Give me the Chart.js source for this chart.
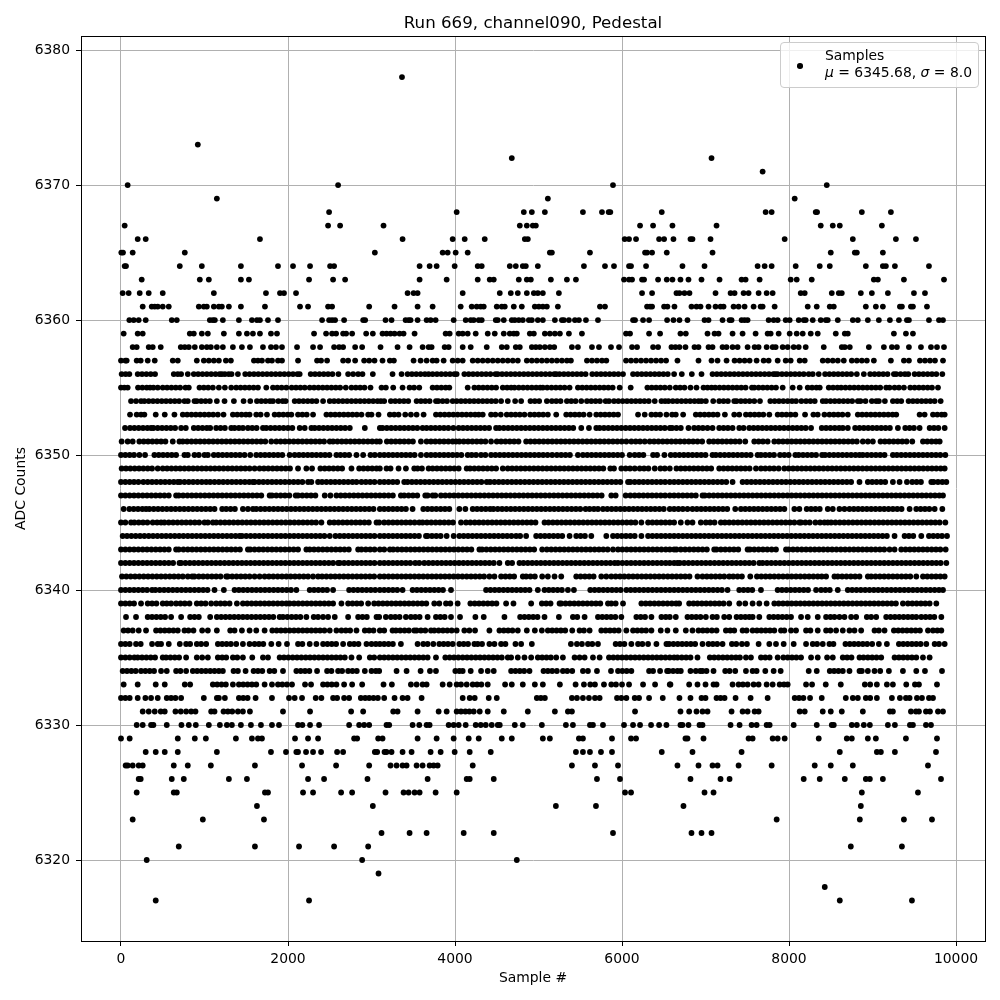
<!DOCTYPE html>
<html>
<head>
<meta charset="utf-8">
<title>Run 669, channel090, Pedestal</title>
<script src="https://cdn.jsdelivr.net/npm/chart.js@4"></script>
<style>
  html, body { margin: 0; padding: 0; background: #fff; }
  #wrap { position: relative; width: 1000px; height: 1000px; }
  #legend {
    position: absolute; left: 780px; top: 42px; width: 197px; height: 44px;
    background: rgba(255,255,255,0.8); border: 1px solid #ccc; border-radius: 4px;
    font: 13.9px "DejaVu Sans"; color: #000; line-height: 17px;
  }
  #legend .dot { position: absolute; left: 16px; top: 20px; width: 5.6px; height: 5.6px; border-radius: 50%; background: #000; }
  #legend .txt { position: absolute; left: 44px; top: 4px; white-space: nowrap; }
</style>
</head>
<body>
<div id="wrap">
  <canvas id="myChart" width="1000" height="1000"></canvas>
  <div id="legend"><span class="dot"></span><div class="txt">Samples<br><i>μ</i> = 6345.68, <i>σ</i> = 8.0</div></div>
</div>
<script>
// x positions of the samples on each ADC level
const s6378 = [3365];
const s6373 = [920];
const s6372 = [4680, 7072];
const s6371 = [7684];
const s6370 = [80, 2600, 5892, 8452];
const s6369 = [1148, 5112, 8068];
const s6368 = [2492, 4020, 4824, 4920, 5076, 5532, 5760, 5840, 5860, 6476, 7720, 7792, 8320, 8336, 8872, 9220];
const s6367 = [44, 2480, 2624, 3144, 4776, 4860, 4932, 4968, 6216, 6372, 6604, 7132, 8380, 8524, 8608, 9112];
const s6366 = [200, 296, 1664, 3372, 3972, 4116, 4356, 4836, 4872, 6032, 6084, 6168, 6444, 6504, 6616, 6820, 6844, 7060, 7948, 8764, 9280, 9520];
const s6365 = [4, 24, 140, 764, 3040, 3852, 3912, 4008, 4152, 5136, 5160, 5616, 6276, 6300, 6360, 6536, 7084, 8500, 8788, 8812, 9124];
const s6364 = [44, 60, 704, 968, 1436, 1880, 2060, 2264, 2504, 2552, 3576, 3696, 3780, 3996, 4272, 4320, 4656, 4728, 4812, 4848, 4992, 5544, 5796, 5904, 6084, 6108, 6288, 6724, 6988, 7624, 7708, 7792, 8080, 8368, 8488, 8920, 9124, 9160, 9268, 9676];
const s6363 = [248, 944, 1052, 1436, 1532, 2252, 2540, 2684, 3576, 3900, 4272, 4416, 4464, 4764, 4860, 4908, 5148, 5340, 5448, 6024, 6084, 6120, 6240, 6264, 6432, 6536, 6604, 6700, 6796, 6952, 7168, 7432, 7480, 7648, 8020, 8092, 8272, 9016, 9064, 9376, 9856];
const s6362 = [20, 92, 224, 332, 500, 1112, 1736, 1904, 1952, 2096, 3432, 3504, 3552, 4092, 4536, 4668, 4752, 4860, 4944, 4992, 5052, 5244, 6240, 6360, 6652, 6688, 6748, 6808, 7120, 7300, 7348, 7456, 7516, 7636, 7732, 7804, 8140, 8188, 8512, 8596, 8632, 8860, 8992, 9184, 9496, 9628];
const s6361 = [260, 368, 404, 440, 500, 572, 932, 992, 1028, 1112, 1172, 1208, 1292, 1436, 1724, 2144, 2240, 2480, 2528, 2972, 3276, 3552, 3732, 4068, 4200, 4260, 4308, 4344, 4500, 4560, 4596, 4704, 4800, 4956, 5004, 5052, 5100, 5232, 5736, 5796, 6300, 6336, 6360, 6504, 6544, 6628, 6832, 6892, 6940, 7036, 7120, 7180, 7216, 7336, 7396, 7468, 7576, 7660, 7684, 7828, 8224, 8332, 8488, 8536, 8920, 9040, 9124, 9328, 9352, 9460, 9484, 9652];
const s6360 = [100, 152, 212, 296, 608, 668, 1064, 1100, 1124, 1220, 1412, 1568, 1628, 1664, 1760, 1880, 2408, 2492, 2528, 2564, 2672, 2900, 2924, 3168, 3240, 3408, 3444, 3468, 3552, 3660, 3708, 3768, 3984, 4128, 4188, 4224, 4284, 4320, 4488, 4512, 4584, 4680, 4716, 4764, 4812, 4884, 4920, 4992, 5052, 5196, 5280, 5304, 5364, 5436, 5484, 5568, 5712, 6132, 6156, 6252, 6324, 6540, 6616, 6688, 6784, 6988, 7036, 7204, 7288, 7312, 7432, 7468, 7504, 7756, 7816, 7864, 7960, 8008, 8116, 8176, 8200, 8284, 8380, 8440, 8464, 8584, 8764, 8824, 8944, 9076, 9208, 9316, 9412, 9436, 9676, 9796, 9844];
const s6359 = [32, 200, 260, 824, 872, 968, 1040, 1232, 1412, 1508, 1580, 1664, 1796, 1868, 2312, 2456, 2528, 2576, 2660, 2696, 2768, 2936, 3016, 3132, 3180, 3228, 3276, 3336, 3384, 3516, 3888, 3936, 4044, 4092, 4152, 4248, 4392, 4476, 4584, 4656, 4704, 4740, 4896, 4944, 5076, 5136, 5196, 5256, 5364, 5520, 6048, 6096, 6324, 6456, 6700, 6764, 7024, 7108, 7156, 7324, 7444, 7600, 7744, 7780, 7876, 8008, 8092, 8164, 8260, 8344, 8560, 8668, 8704, 9256, 9400, 9484];
const s6358 = [140, 188, 332, 380, 476, 716, 764, 812, 884, 968, 1028, 1076, 1148, 1220, 1340, 1448, 1544, 1700, 1796, 1856, 1928, 2108, 2300, 2384, 2552, 2612, 2660, 2804, 2888, 3108, 3312, 3456, 3612, 3684, 3720, 3876, 3924, 4092, 4188, 4380, 4560, 4620, 4728, 4776, 4920, 4968, 5016, 5076, 5136, 5188, 5400, 5472, 5640, 5724, 5868, 5964, 6120, 6180, 6372, 6432, 6592, 6640, 6688, 6760, 6868, 6916, 7036, 7084, 7204, 7252, 7324, 7384, 7504, 7588, 7636, 7732, 7804, 7840, 7924, 7984, 8056, 8116, 8200, 8416, 8632, 8668, 8728, 8956, 9136, 9232, 9292, 9436, 9580, 9700, 9772, 9856];
const s6357 = [0, 52, 68, 188, 236, 320, 404, 620, 680, 908, 992, 1052, 1112, 1172, 1256, 1316, 1592, 1640, 1688, 1760, 1808, 1880, 1928, 2120, 2348, 2396, 2468, 2660, 2720, 2804, 2912, 2972, 3036, 3132, 3220, 3268, 3504, 3588, 3660, 3732, 3780, 3864, 3972, 4032, 4092, 4212, 4272, 4332, 4392, 4452, 4512, 4572, 4632, 4692, 4752, 4860, 4920, 4980, 5040, 5100, 5160, 5220, 5280, 5340, 5388, 5580, 5640, 5700, 5760, 5812, 6048, 6108, 6168, 6228, 6288, 6348, 6408, 6468, 6528, 6664, 6916, 7072, 7144, 7252, 7348, 7408, 7468, 7528, 7612, 7696, 7756, 7864, 7960, 8020, 8128, 8188, 8404, 8464, 8524, 8584, 8656, 8752, 8812, 8872, 8932, 9016, 9220, 9376, 9436, 9568, 9628, 9688, 9748, 9844];
const s6356 = [8, 56, 100, 200, 252, 304, 356, 408, 632, 680, 720, 800, 872, 924, 976, 1028, 1080, 1132, 1180, 1208, 1244, 1290, 1324, 1400, 1488, 1540, 1592, 1644, 1696, 1748, 1800, 1852, 1904, 1956, 2008, 2060, 2112, 2140, 2272, 2324, 2376, 2428, 2480, 2532, 2604, 2720, 2780, 2840, 2892, 3016, 3252, 3360, 3432, 3484, 3536, 3588, 3640, 3684, 3732, 3784, 3836, 3888, 3940, 3992, 4020, 4112, 4164, 4216, 4268, 4320, 4372, 4424, 4484, 4512, 4564, 4616, 4668, 4720, 4772, 4824, 4876, 4928, 4980, 5032, 5084, 5136, 5188, 5212, 5252, 5304, 5356, 5408, 5460, 5512, 5564, 5644, 5696, 5748, 5800, 5852, 5904, 5956, 6012, 6132, 6184, 6236, 6288, 6340, 6392, 6444, 6496, 6548, 6624, 6716, 6836, 6952, 7084, 7136, 7188, 7240, 7292, 7344, 7396, 7448, 7500, 7552, 7604, 7656, 7708, 7760, 7812, 7836, 7864, 7916, 7968, 8020, 8072, 8124, 8176, 8236, 8284, 8356, 8432, 8484, 8536, 8588, 8640, 8692, 8744, 8812, 8896, 8972, 9024, 9076, 9128, 9180, 9256, 9284, 9336, 9388, 9428, 9504, 9556, 9608, 9660, 9712, 9764, 9836];
const s6355 = [0, 40, 80, 204, 256, 308, 348, 388, 440, 500, 552, 604, 656, 708, 772, 812, 940, 992, 1044, 1100, 1172, 1244, 1320, 1380, 1432, 1484, 1536, 1588, 1640, 1740, 1820, 1872, 1924, 1980, 2044, 2096, 2148, 2200, 2260, 2312, 2364, 2416, 2468, 2520, 2572, 2624, 2692, 2760, 2812, 2864, 2916, 2988, 3120, 3172, 3260, 3372, 3456, 3510, 3572, 3732, 3784, 3836, 3888, 3932, 4152, 4232, 4284, 4336, 4388, 4440, 4492, 4572, 4624, 4672, 4712, 4764, 4816, 4868, 4920, 4972, 5020, 5052, 5104, 5156, 5208, 5260, 5312, 5372, 5472, 5524, 5576, 5628, 5680, 5732, 5784, 5836, 5888, 5972, 6104, 6304, 6356, 6408, 6460, 6512, 6572, 6644, 6696, 6748, 6820, 6892, 6976, 7024, 7072, 7116, 7168, 7220, 7272, 7324, 7376, 7428, 7480, 7556, 7584, 7636, 7688, 7740, 7792, 7844, 7924, 8044, 8128, 8224, 8276, 8328, 8368, 8476, 8528, 8580, 8624, 8676, 8728, 8780, 8832, 8884, 8936, 8988, 9040, 9092, 9164, 9204, 9264, 9316, 9376, 9452, 9504, 9556, 9608, 9660, 9712, 9784];
const s6354 = [120, 180, 240, 280, 332, 384, 436, 488, 540, 592, 644, 696, 760, 800, 880, 908, 960, 1012, 1064, 1148, 1240, 1352, 1468, 1548, 1628, 1680, 1732, 1784, 1820, 1884, 1936, 1972, 2080, 2132, 2184, 2236, 2288, 2340, 2420, 2500, 2552, 2604, 2656, 2708, 2760, 2812, 2864, 2916, 2968, 3020, 3072, 3112, 3152, 3232, 3284, 3336, 3388, 3440, 3540, 3592, 3644, 3696, 3772, 3800, 3852, 3904, 3972, 4020, 4072, 4124, 4176, 4228, 4280, 4332, 4384, 4436, 4488, 4552, 4632, 4720, 4792, 4904, 4956, 5008, 5100, 5160, 5212, 5264, 5340, 5392, 5444, 5512, 5580, 5632, 5684, 5736, 5804, 5844, 5904, 5956, 6008, 6060, 6112, 6164, 6216, 6268, 6320, 6392, 6472, 6516, 6556, 6608, 6660, 6712, 6764, 6816, 6868, 6916, 6952, 7004, 7092, 7164, 7216, 7268, 7344, 7372, 7424, 7476, 7528, 7584, 7652, 7776, 7828, 7880, 7932, 7984, 8036, 8084, 8148, 8204, 8256, 8308, 8404, 8444, 8496, 8548, 8600, 8652, 8704, 8756, 8824, 8856, 8916, 8992, 9044, 9076, 9148, 9244, 9296, 9344, 9432, 9484, 9536, 9588, 9640, 9692, 9744, 9816];
const s6353 = [108, 188, 240, 280, 416, 524, 640, 740, 792, 844, 896, 948, 1000, 1052, 1104, 1160, 1228, 1340, 1392, 1444, 1496, 1540, 1620, 1672, 1748, 1840, 1892, 1944, 1996, 2040, 2120, 2172, 2224, 2300, 2460, 2512, 2564, 2616, 2668, 2720, 2772, 2824, 2880, 2960, 3000, 3084, 3220, 3272, 3324, 3404, 3472, 3540, 3624, 3772, 3824, 3876, 3928, 3980, 4032, 4084, 4136, 4188, 4240, 4284, 4332, 4432, 4484, 4548, 4620, 4672, 4724, 4776, 4832, 4900, 4952, 5004, 5056, 5112, 5212, 5332, 5384, 5436, 5488, 5540, 5612, 5692, 5744, 5796, 5848, 5900, 5952, 6192, 6272, 6352, 6404, 6456, 6532, 6600, 6644, 6732, 6884, 6936, 6988, 7040, 7092, 7144, 7232, 7344, 7404, 7484, 7536, 7588, 7640, 7692, 7764, 7864, 7916, 7968, 8020, 8076, 8192, 8292, 8344, 8424, 8484, 8536, 8588, 8640, 8704, 8824, 8876, 8928, 8980, 9032, 9084, 9136, 9188, 9240, 9284, 9564, 9624, 9724, 9776, 9828, 9864];
const s6352 = [48, 108, 160, 212, 264, 316, 360, 388, 440, 492, 544, 596, 648, 720, 776, 872, 924, 976, 1028, 1068, 1140, 1192, 1244, 1320, 1360, 1412, 1460, 1520, 1572, 1624, 1700, 1740, 1792, 1844, 1896, 1948, 2000, 2052, 2140, 2200, 2280, 2320, 2372, 2424, 2476, 2528, 2580, 2632, 2684, 2740, 2920, 3100, 3132, 3184, 3236, 3288, 3340, 3392, 3444, 3496, 3548, 3612, 3660, 3712, 3764, 3816, 3868, 3920, 3980, 4044, 4096, 4148, 4200, 4252, 4304, 4356, 4408, 4492, 4532, 4584, 4636, 4688, 4740, 4792, 4844, 4896, 4948, 5000, 5052, 5104, 5156, 5208, 5260, 5312, 5364, 5416, 5512, 5604, 5692, 5732, 5784, 5836, 5888, 5940, 5992, 6044, 6096, 6148, 6200, 6252, 6304, 6356, 6408, 6460, 6512, 6572, 6600, 6652, 6704, 6796, 6864, 6916, 6968, 7024, 7084, 7164, 7216, 7268, 7324, 7404, 7456, 7524, 7576, 7628, 7680, 7732, 7784, 7836, 7888, 7940, 7992, 8044, 8096, 8148, 8200, 8264, 8392, 8444, 8496, 8548, 8600, 8644, 8704, 8792, 8844, 8896, 8948, 9000, 9052, 9104, 9156, 9208, 9304, 9392, 9444, 9496, 9564, 9684, 9736, 9788, 9864];
const s6351 = [8, 80, 140, 220, 272, 324, 376, 428, 480, 532, 620, 700, 740, 792, 844, 896, 948, 1000, 1052, 1104, 1156, 1208, 1260, 1312, 1364, 1416, 1468, 1520, 1572, 1624, 1676, 1728, 1800, 1860, 1912, 1964, 2016, 2068, 2120, 2172, 2224, 2276, 2328, 2380, 2432, 2500, 2540, 2592, 2644, 2696, 2748, 2800, 2852, 2904, 2956, 3008, 3060, 3100, 3184, 3236, 3288, 3340, 3392, 3444, 3496, 3592, 3660, 3712, 3764, 3816, 3868, 3920, 3972, 4012, 4052, 4104, 4156, 4208, 4260, 4312, 4364, 4432, 4500, 4552, 4604, 4656, 4708, 4760, 4852, 4904, 4956, 5008, 5060, 5112, 5164, 5216, 5268, 5320, 5372, 5424, 5476, 5528, 5580, 5632, 5684, 5736, 5788, 5840, 5892, 5944, 5996, 6052, 6112, 6164, 6216, 6272, 6332, 6384, 6436, 6488, 6540, 6592, 6644, 6696, 6748, 6800, 6852, 6904, 6960, 7044, 7096, 7148, 7200, 7252, 7304, 7356, 7408, 7476, 7584, 7636, 7688, 7744, 7824, 7876, 7928, 7980, 8032, 8084, 8136, 8188, 8240, 8292, 8344, 8396, 8448, 8500, 8552, 8604, 8656, 8708, 8760, 8812, 8884, 8944, 9004, 9096, 9148, 9200, 9252, 9304, 9356, 9408, 9476, 9604, 9656, 9708, 9760, 9804];
const s6350 = [0, 52, 104, 156, 220, 288, 400, 452, 504, 556, 608, 660, 760, 800, 880, 932, 1000, 1040, 1112, 1164, 1216, 1268, 1320, 1372, 1424, 1480, 1548, 1620, 1672, 1724, 1776, 1828, 1880, 1932, 2020, 2080, 2132, 2184, 2236, 2288, 2340, 2392, 2444, 2496, 2580, 2628, 2680, 2732, 2820, 2900, 2988, 3040, 3100, 3152, 3204, 3256, 3308, 3360, 3412, 3464, 3516, 3592, 3660, 3712, 3764, 3816, 3868, 3920, 3972, 4024, 4076, 4152, 4200, 4252, 4312, 4364, 4432, 4484, 4536, 4588, 4640, 4692, 4744, 4796, 4848, 4900, 4952, 5004, 5056, 5108, 5164, 5220, 5272, 5324, 5376, 5472, 5532, 5584, 5636, 5688, 5740, 5792, 5844, 5896, 5948, 6000, 6092, 6152, 6204, 6256, 6372, 6420, 6508, 6584, 6636, 6688, 6740, 6792, 6844, 6896, 6948, 7000, 7084, 7124, 7176, 7228, 7280, 7332, 7384, 7436, 7488, 7540, 7624, 7664, 7716, 7768, 7820, 7892, 7944, 7996, 8076, 8116, 8168, 8220, 8272, 8324, 8396, 8432, 8484, 8536, 8588, 8640, 8692, 8744, 8796, 8844, 8884, 8936, 8988, 9040, 9092, 9144, 9244, 9292, 9344, 9396, 9448, 9500, 9552, 9604, 9656, 9708, 9760, 9812, 9872];
const s6349 = [8, 60, 112, 164, 216, 268, 320, 372, 440, 500, 552, 604, 656, 708, 760, 812, 864, 916, 968, 1020, 1072, 1124, 1176, 1228, 1280, 1332, 1384, 1436, 1488, 1540, 1600, 1660, 1712, 1764, 1816, 1868, 1920, 1972, 2024, 2120, 2220, 2288, 2388, 2440, 2492, 2544, 2596, 2648, 2760, 2852, 2904, 2956, 3008, 3060, 3100, 3180, 3228, 3324, 3412, 3512, 3552, 3604, 3684, 3732, 3784, 3836, 3888, 3940, 3992, 4044, 4140, 4180, 4232, 4284, 4336, 4388, 4440, 4492, 4572, 4632, 4684, 4736, 4788, 4840, 4892, 4944, 4996, 5048, 5100, 5152, 5204, 5256, 5308, 5360, 5412, 5464, 5516, 5568, 5620, 5672, 5724, 5776, 5860, 5904, 5992, 6044, 6096, 6152, 6212, 6264, 6316, 6392, 6460, 6512, 6572, 6652, 6704, 6756, 6808, 6860, 6912, 6964, 7016, 7068, 7164, 7216, 7268, 7320, 7372, 7424, 7476, 7528, 7604, 7664, 7716, 7768, 7820, 7876, 7944, 7996, 8048, 8100, 8152, 8204, 8256, 8308, 8360, 8412, 8464, 8516, 8568, 8620, 8672, 8724, 8776, 8828, 8880, 8932, 8984, 9036, 9088, 9140, 9192, 9244, 9296, 9348, 9400, 9452, 9504, 9556, 9608, 9660, 9712, 9764, 9816, 9864];
const s6348 = [0, 52, 104, 156, 208, 268, 320, 372, 424, 476, 528, 580, 632, 680, 708, 760, 812, 864, 916, 968, 1020, 1068, 1120, 1172, 1224, 1276, 1328, 1380, 1432, 1484, 1536, 1580, 1600, 1652, 1704, 1756, 1808, 1860, 1912, 1964, 2016, 2068, 2120, 2172, 2240, 2280, 2360, 2408, 2460, 2512, 2564, 2616, 2668, 2720, 2772, 2820, 2880, 2932, 2984, 3036, 3100, 3152, 3204, 3256, 3308, 3392, 3432, 3484, 3536, 3588, 3640, 3692, 3744, 3796, 3848, 3900, 3952, 4004, 4056, 4108, 4160, 4212, 4264, 4316, 4380, 4420, 4472, 4524, 4576, 4628, 4680, 4732, 4784, 4836, 4888, 4940, 4992, 5044, 5096, 5148, 5200, 5252, 5304, 5356, 5408, 5460, 5512, 5564, 5616, 5668, 5720, 5772, 5824, 5876, 5928, 5980, 6072, 6100, 6152, 6204, 6256, 6308, 6360, 6412, 6464, 6516, 6572, 6624, 6676, 6728, 6780, 6832, 6884, 6936, 6988, 7040, 7092, 7144, 7196, 7248, 7324, 7444, 7496, 7548, 7600, 7652, 7704, 7756, 7808, 7860, 7912, 7964, 8016, 8068, 8120, 8172, 8224, 8276, 8328, 8380, 8432, 8484, 8536, 8588, 8640, 8692, 8744, 8844, 8944, 8996, 9048, 9100, 9152, 9244, 9324, 9412, 9476, 9528, 9580, 9704, 9732, 9784, 9836, 9884];
const s6347 = [0, 52, 104, 156, 208, 260, 312, 364, 416, 468, 520, 572, 660, 692, 744, 796, 848, 900, 952, 1004, 1056, 1108, 1160, 1212, 1264, 1316, 1368, 1420, 1472, 1524, 1576, 1628, 1680, 1780, 1808, 1860, 1912, 1964, 2016, 2092, 2120, 2172, 2224, 2276, 2328, 2440, 2508, 2580, 2632, 2684, 2736, 2788, 2840, 2892, 2944, 2996, 3048, 3100, 3152, 3204, 3256, 3352, 3392, 3444, 3496, 3548, 3644, 3672, 3732, 3764, 3832, 3884, 3936, 3988, 4040, 4092, 4144, 4196, 4248, 4300, 4352, 4404, 4456, 4508, 4560, 4612, 4664, 4716, 4768, 4820, 4872, 4924, 4976, 5028, 5080, 5132, 5184, 5236, 5288, 5340, 5392, 5444, 5496, 5548, 5600, 5652, 5704, 5756, 5872, 5924, 6044, 6100, 6152, 6204, 6256, 6308, 6360, 6412, 6464, 6516, 6572, 6624, 6676, 6728, 6780, 6832, 6884, 6964, 6992, 7044, 7096, 7148, 7200, 7252, 7304, 7356, 7408, 7460, 7512, 7564, 7616, 7668, 7720, 7772, 7824, 7876, 7928, 7980, 8032, 8084, 8136, 8188, 8240, 8292, 8344, 8396, 8448, 8500, 8552, 8604, 8656, 8708, 8760, 8812, 8864, 8916, 8968, 9020, 9072, 9124, 9176, 9228, 9280, 9332, 9384, 9436, 9488, 9540, 9592, 9644, 9696, 9748, 9800, 9844];
const s6346 = [32, 100, 152, 204, 256, 300, 340, 392, 444, 496, 548, 600, 652, 704, 756, 808, 860, 912, 964, 1016, 1068, 1120, 1212, 1260, 1312, 1364, 1460, 1520, 1580, 1620, 1672, 1724, 1776, 1828, 1880, 1932, 1984, 2036, 2088, 2140, 2192, 2244, 2296, 2348, 2400, 2452, 2504, 2556, 2608, 2660, 2712, 2764, 2816, 2868, 2920, 2972, 3024, 3100, 3152, 3204, 3256, 3308, 3360, 3412, 3492, 3620, 3672, 3724, 3776, 3828, 3880, 3932, 4052, 4124, 4212, 4264, 4316, 4368, 4420, 4460, 4512, 4564, 4616, 4668, 4720, 4772, 4824, 4876, 4928, 4980, 5032, 5084, 5136, 5188, 5240, 5292, 5344, 5396, 5448, 5500, 5564, 5612, 5664, 5712, 5772, 5824, 5876, 5928, 5980, 6032, 6084, 6136, 6188, 6240, 6292, 6344, 6396, 6448, 6500, 6572, 6624, 6676, 6728, 6784, 6844, 6896, 6948, 7000, 7052, 7104, 7156, 7208, 7260, 7356, 7424, 7476, 7528, 7580, 7632, 7684, 7736, 7788, 7840, 7892, 7944, 8064, 8124, 8212, 8264, 8316, 8368, 8464, 8524, 8604, 8664, 8724, 8776, 8828, 8880, 8932, 8984, 9036, 9088, 9140, 9192, 9244, 9296, 9348, 9444, 9524, 9576, 9628, 9680, 9744, 9836];
const s6345 = [0, 52, 120, 160, 212, 264, 316, 380, 432, 480, 520, 572, 624, 676, 728, 780, 832, 884, 936, 1000, 1040, 1100, 1140, 1192, 1244, 1296, 1348, 1400, 1452, 1504, 1556, 1608, 1660, 1712, 1764, 1816, 1868, 1920, 1972, 2024, 2076, 2128, 2180, 2232, 2284, 2336, 2400, 2500, 2552, 2604, 2656, 2708, 2760, 2812, 2864, 2916, 2968, 3060, 3092, 3152, 3204, 3256, 3308, 3360, 3412, 3464, 3516, 3572, 3612, 3664, 3716, 3768, 3820, 3872, 3924, 3976, 4072, 4132, 4184, 4236, 4288, 4340, 4392, 4444, 4496, 4548, 4600, 4652, 4704, 4756, 4808, 4860, 4912, 4964, 5072, 5120, 5172, 5224, 5276, 5328, 5380, 5432, 5484, 5536, 5588, 5640, 5692, 5744, 5796, 5848, 5900, 5952, 6004, 6056, 6108, 6160, 6232, 6312, 6364, 6416, 6468, 6520, 6572, 6624, 6704, 6784, 6844, 6944, 7004, 7056, 7108, 7184, 7232, 7284, 7336, 7388, 7440, 7492, 7544, 7596, 7648, 7700, 7752, 7804, 7856, 7908, 7960, 8012, 8064, 8124, 8144, 8196, 8248, 8316, 8372, 8424, 8464, 8504, 8556, 8608, 8660, 8712, 8764, 8816, 8868, 8920, 8972, 9024, 9076, 9128, 9180, 9232, 9284, 9336, 9388, 9440, 9492, 9544, 9596, 9648, 9700, 9752, 9804, 9872];
const s6344 = [20, 72, 124, 176, 228, 280, 332, 384, 436, 488, 540, 592, 644, 696, 748, 800, 852, 904, 956, 1008, 1060, 1112, 1164, 1216, 1268, 1320, 1372, 1420, 1448, 1500, 1552, 1604, 1656, 1708, 1760, 1812, 1864, 1916, 1968, 2020, 2072, 2124, 2176, 2228, 2280, 2332, 2384, 2436, 2500, 2568, 2620, 2672, 2724, 2776, 2828, 2880, 2932, 2984, 3036, 3100, 3152, 3204, 3256, 3308, 3360, 3412, 3464, 3516, 3568, 3652, 3672, 3724, 3776, 3828, 3900, 3984, 4052, 4104, 4156, 4208, 4260, 4312, 4364, 4416, 4468, 4520, 4572, 4624, 4676, 4732, 4780, 4852, 4972, 5024, 5076, 5128, 5180, 5232, 5284, 5372, 5452, 5504, 5556, 5632, 5812, 5892, 5944, 5996, 6048, 6100, 6152, 6232, 6312, 6364, 6416, 6468, 6520, 6572, 6624, 6676, 6728, 6780, 6832, 6884, 6936, 6988, 7040, 7092, 7144, 7196, 7248, 7300, 7352, 7404, 7456, 7508, 7560, 7612, 7664, 7716, 7768, 7820, 7872, 7924, 7976, 8028, 8080, 8132, 8184, 8236, 8288, 8340, 8392, 8444, 8496, 8548, 8600, 8652, 8704, 8756, 8808, 8860, 8912, 8964, 9016, 9068, 9120, 9172, 9264, 9384, 9436, 9488, 9584, 9676, 9728, 9780, 9832, 9892];
const s6343 = [0, 52, 104, 156, 208, 260, 312, 364, 416, 468, 520, 572, 660, 692, 748, 800, 852, 904, 956, 1008, 1060, 1112, 1164, 1216, 1268, 1320, 1372, 1424, 1520, 1548, 1600, 1652, 1704, 1756, 1808, 1860, 1912, 1964, 2016, 2068, 2120, 2220, 2260, 2312, 2364, 2416, 2468, 2520, 2572, 2624, 2676, 2728, 2840, 2880, 2932, 2984, 3036, 3100, 3152, 3220, 3260, 3312, 3364, 3416, 3468, 3520, 3572, 3624, 3676, 3728, 3780, 3832, 3884, 3936, 3988, 4040, 4092, 4144, 4196, 4292, 4324, 4376, 4428, 4480, 4532, 4584, 4636, 4688, 4740, 4792, 4844, 4896, 4948, 5044, 5100, 5152, 5204, 5256, 5308, 5360, 5412, 5464, 5516, 5568, 5620, 5672, 5724, 5776, 5828, 5892, 5952, 6004, 6056, 6108, 6160, 6212, 6264, 6316, 6368, 6420, 6472, 6524, 6572, 6624, 6652, 6704, 6756, 6808, 6860, 6912, 6964, 7016, 7104, 7132, 7184, 7236, 7288, 7340, 7392, 7504, 7532, 7584, 7636, 7688, 7740, 7792, 7844, 7964, 7996, 8048, 8100, 8152, 8204, 8256, 8308, 8360, 8412, 8464, 8516, 8568, 8620, 8672, 8724, 8776, 8828, 8880, 8932, 8984, 9036, 9088, 9140, 9204, 9264, 9344, 9396, 9448, 9500, 9552, 9604, 9656, 9708, 9760, 9812, 9876];
const s6342 = [0, 52, 104, 156, 208, 260, 312, 364, 416, 468, 520, 572, 624, 700, 720, 772, 824, 876, 928, 980, 1032, 1084, 1136, 1188, 1240, 1292, 1344, 1396, 1448, 1500, 1552, 1604, 1656, 1708, 1760, 1812, 1864, 1916, 1968, 2020, 2072, 2124, 2176, 2228, 2280, 2332, 2384, 2436, 2488, 2540, 2600, 2620, 2672, 2724, 2776, 2828, 2880, 2932, 2984, 3036, 3100, 3152, 3204, 3256, 3308, 3360, 3412, 3464, 3524, 3572, 3632, 3684, 3736, 3788, 3840, 3892, 3944, 3996, 4048, 4100, 4152, 4204, 4256, 4308, 4360, 4412, 4464, 4532, 4632, 4684, 4772, 4820, 4872, 4924, 4976, 5028, 5080, 5132, 5184, 5236, 5288, 5340, 5392, 5444, 5496, 5548, 5600, 5652, 5704, 5756, 5808, 5860, 5912, 5952, 6004, 6056, 6108, 6160, 6212, 6264, 6316, 6368, 6420, 6472, 6524, 6572, 6624, 6664, 6692, 6744, 6796, 6848, 6900, 6952, 7004, 7056, 7108, 7160, 7212, 7264, 7316, 7368, 7420, 7472, 7524, 7576, 7644, 7684, 7736, 7788, 7840, 7892, 7944, 7996, 8048, 8100, 8152, 8204, 8256, 8308, 8360, 8412, 8464, 8516, 8568, 8620, 8672, 8724, 8776, 8828, 8880, 8932, 8984, 9036, 9088, 9140, 9192, 9244, 9296, 9348, 9400, 9452, 9504, 9556, 9608, 9660, 9712, 9764, 9816, 9884];
const s6341 = [12, 64, 116, 168, 220, 272, 324, 376, 428, 480, 532, 584, 636, 688, 740, 800, 852, 880, 932, 984, 1036, 1088, 1140, 1192, 1260, 1280, 1332, 1384, 1436, 1488, 1540, 1600, 1660, 1720, 1772, 1824, 1876, 1928, 1980, 2032, 2084, 2136, 2188, 2240, 2300, 2360, 2408, 2460, 2512, 2564, 2616, 2668, 2720, 2772, 2824, 2876, 2928, 2980, 3032, 3100, 3152, 3204, 3256, 3308, 3360, 3412, 3464, 3516, 3568, 3620, 3672, 3724, 3776, 3828, 3880, 3932, 3984, 4036, 4088, 4140, 4192, 4244, 4296, 4348, 4412, 4472, 4552, 4604, 4656, 4708, 4812, 4852, 4904, 4956, 5044, 5112, 5192, 5272, 5452, 5504, 5556, 5608, 5660, 5752, 5812, 5872, 5924, 5976, 6028, 6080, 6132, 6184, 6236, 6288, 6340, 6392, 6444, 6496, 6548, 6600, 6652, 6704, 6756, 6808, 6904, 6964, 7016, 7068, 7120, 7172, 7224, 7284, 7332, 7384, 7436, 7536, 7616, 7668, 7720, 7772, 7824, 7876, 7928, 7980, 8032, 8084, 8136, 8188, 8240, 8292, 8344, 8392, 8444, 8544, 8584, 8636, 8688, 8740, 8792, 8844, 8944, 8984, 9036, 9088, 9140, 9192, 9244, 9296, 9348, 9400, 9452, 9524, 9604, 9656, 9708, 9760, 9812, 9864];
const s6340 = [0, 52, 104, 156, 208, 260, 312, 372, 412, 464, 516, 568, 620, 672, 724, 776, 828, 880, 932, 984, 1036, 1120, 1232, 1360, 1412, 1464, 1516, 1568, 1620, 1672, 1724, 1776, 1828, 1880, 1932, 1984, 2036, 2100, 2260, 2312, 2364, 2416, 2468, 2540, 2732, 2784, 2836, 2888, 2940, 2992, 3044, 3100, 3152, 3204, 3256, 3308, 3372, 3492, 3544, 3596, 3648, 3700, 3752, 3804, 3856, 3952, 4372, 4424, 4476, 4528, 4580, 4632, 4684, 4736, 4788, 4840, 4892, 4992, 5072, 5124, 5176, 5228, 5280, 5352, 5424, 5620, 5672, 5724, 5776, 5828, 5880, 5932, 5984, 6052, 6104, 6156, 6208, 6260, 6312, 6364, 6416, 6468, 6520, 6572, 6624, 6676, 6728, 6780, 6832, 6884, 6936, 6988, 7040, 7092, 7144, 7196, 7264, 7404, 7456, 7508, 7560, 7664, 7864, 7916, 7968, 8020, 8072, 8124, 8176, 8228, 8324, 8384, 8436, 8488, 8584, 8704, 8756, 8808, 8860, 8912, 8964, 9016, 9068, 9120, 9172, 9224, 9276, 9328, 9380, 9432, 9484, 9536, 9588, 9640, 9692, 9744, 9796, 9844];
const s6339 = [0, 52, 104, 156, 240, 320, 372, 424, 500, 548, 600, 660, 712, 764, 820, 908, 960, 1012, 1080, 1140, 1192, 1244, 1300, 1388, 1460, 1512, 1564, 1616, 1668, 1720, 1772, 1824, 1876, 1928, 1980, 2020, 2072, 2124, 2176, 2228, 2280, 2332, 2384, 2436, 2488, 2540, 2640, 2720, 2772, 2824, 2876, 2960, 3032, 3084, 3136, 3188, 3240, 3292, 3344, 3396, 3448, 3500, 3552, 3604, 3656, 3752, 3812, 3892, 3944, 4032, 4184, 4236, 4288, 4340, 4392, 4444, 4496, 4612, 4700, 4912, 5040, 5092, 5144, 5252, 5272, 5324, 5376, 5428, 5480, 5532, 5584, 5636, 5688, 5740, 5832, 5872, 5924, 6012, 6232, 6284, 6336, 6388, 6440, 6492, 6544, 6596, 6648, 6684, 6804, 6856, 6904, 6956, 7008, 7060, 7112, 7164, 7216, 7284, 7404, 7476, 7564, 7644, 7732, 7824, 7876, 7928, 7980, 8032, 8084, 8136, 8188, 8240, 8292, 8344, 8396, 8448, 8500, 8552, 8604, 8656, 8708, 8760, 8812, 8864, 8916, 8968, 9020, 9072, 9124, 9176, 9228, 9280, 9364, 9424, 9476, 9528, 9580, 9632, 9684, 9764];
const s6338 = [60, 180, 320, 372, 424, 476, 528, 600, 720, 828, 880, 932, 1068, 1148, 1200, 1252, 1304, 1356, 1408, 1460, 1512, 1564, 1616, 1668, 1720, 1772, 1824, 1900, 1940, 1992, 2044, 2096, 2148, 2220, 2308, 2360, 2420, 2480, 2560, 2720, 2840, 2892, 2944, 3060, 3092, 3172, 3232, 3284, 3336, 3412, 3472, 3524, 3576, 3672, 3772, 3824, 3876, 3952, 4060, 4244, 4344, 4592, 4780, 4832, 4884, 4936, 4988, 5072, 5244, 5412, 5464, 5552, 5712, 5764, 5816, 5868, 5920, 5992, 6172, 6224, 6276, 6352, 6472, 6524, 6572, 6644, 6784, 6836, 6888, 6940, 7004, 7084, 7136, 7224, 7284, 7372, 7424, 7476, 7524, 7564, 7644, 7764, 7816, 7868, 7920, 7972, 8024, 8144, 8224, 8344, 8444, 8496, 8544, 8604, 8664, 8744, 8804, 8932, 8984, 9044, 9164, 9216, 9268, 9320, 9372, 9424, 9476, 9524, 9584, 9636, 9688, 9740, 9824];
const s6337 = [32, 84, 140, 212, 300, 420, 472, 524, 576, 628, 680, 760, 808, 868, 972, 1040, 1148, 1308, 1360, 1448, 1540, 1620, 1720, 1812, 1864, 1916, 1968, 2020, 2072, 2124, 2176, 2228, 2280, 2332, 2384, 2436, 2500, 2580, 2640, 2692, 2744, 2820, 2920, 2972, 3024, 3100, 3152, 3252, 3292, 3344, 3396, 3448, 3512, 3540, 3592, 3644, 3712, 3752, 3804, 3856, 3908, 3960, 4020, 4112, 4172, 4240, 4412, 4532, 4584, 4636, 4688, 4752, 4860, 4956, 5040, 5112, 5164, 5216, 5268, 5320, 5404, 5492, 5544, 5612, 5752, 5804, 5856, 5908, 5960, 6052, 6132, 6184, 6236, 6288, 6352, 6464, 6544, 6644, 6764, 6844, 6916, 6968, 7020, 7076, 7132, 7244, 7296, 7344, 7444, 7492, 7564, 7616, 7668, 7720, 7772, 7824, 7904, 7944, 8024, 8084, 8204, 8256, 8344, 8444, 8496, 8564, 8644, 8724, 8784, 8864, 9024, 9076, 9144, 9256, 9308, 9360, 9412, 9464, 9516, 9568, 9664, 9724, 9776, 9824];
const s6336 = [0, 52, 104, 180, 236, 372, 440, 480, 572, 704, 780, 828, 908, 960, 1020, 1160, 1212, 1264, 1316, 1380, 1460, 1540, 1600, 1652, 1704, 1800, 1888, 1988, 2120, 2172, 2260, 2340, 2420, 2472, 2524, 2576, 2660, 2740, 2792, 2844, 2940, 3000, 3052, 3100, 3152, 3204, 3256, 3352, 3552, 3620, 3672, 3740, 3812, 3864, 3916, 3972, 4052, 4104, 4156, 4232, 4272, 4324, 4412, 4472, 4552, 4604, 4724, 4792, 4920, 5388, 5460, 5520, 5592, 5644, 5712, 5924, 5976, 6028, 6112, 6192, 6244, 6312, 6412, 6532, 6564, 6616, 6668, 6720, 6772, 6824, 6876, 6964, 7036, 7088, 7140, 7204, 7316, 7368, 7436, 7496, 7636, 7764, 7844, 7936, 8056, 8204, 8284, 8336, 8404, 8484, 8532, 8676, 8728, 8780, 8832, 8884, 8936, 8996, 9076, 9172, 9316, 9368, 9420, 9472, 9524, 9576, 9644, 9744, 9796, 9864];
const s6335 = [0, 52, 104, 160, 200, 252, 304, 356, 408, 500, 540, 592, 644, 696, 780, 908, 972, 1040, 1160, 1212, 1260, 1340, 1392, 1460, 1572, 1700, 1760, 1900, 1952, 2004, 2056, 2108, 2160, 2212, 2264, 2316, 2368, 2420, 2472, 2524, 2576, 2628, 2680, 2760, 2852, 2980, 3032, 3100, 3152, 3204, 3256, 3308, 3360, 3412, 3464, 3516, 3568, 3620, 3672, 3772, 3884, 3936, 3988, 4040, 4092, 4144, 4196, 4248, 4300, 4352, 4404, 4456, 4508, 4560, 4632, 4672, 4752, 4832, 4912, 4992, 5044, 5096, 5148, 5212, 5292, 5432, 5492, 5552, 5652, 5732, 5844, 5896, 5948, 6000, 6052, 6104, 6156, 6208, 6260, 6312, 6364, 6416, 6468, 6520, 6572, 6624, 6664, 6716, 6768, 6820, 6904, 7052, 7104, 7156, 7208, 7260, 7312, 7364, 7412, 7484, 7544, 7664, 7716, 7768, 7864, 7932, 7984, 8036, 8088, 8144, 8264, 8344, 8456, 8524, 8644, 8696, 8748, 8844, 8892, 8944, 8996, 9048, 9104, 9264, 9316, 9368, 9420, 9472, 9524, 9604, 9684];
const s6334 = [20, 72, 124, 176, 240, 292, 344, 396, 480, 548, 660, 712, 780, 860, 912, 964, 1016, 1068, 1120, 1172, 1220, 1348, 1400, 1492, 1588, 1640, 1692, 1780, 1836, 1940, 2100, 2152, 2204, 2256, 2348, 2468, 2520, 2600, 2648, 2720, 2772, 2824, 2920, 3000, 3052, 3092, 3300, 3420, 3588, 3700, 3772, 4004, 4052, 4092, 4188, 4312, 4392, 4464, 4672, 4724, 4776, 4828, 4892, 5060, 5112, 5164, 5220, 5292, 5344, 5404, 5532, 5592, 5700, 5868, 5952, 6004, 6056, 6112, 6324, 6372, 6456, 6540, 6560, 6612, 6664, 6704, 6820, 6884, 6936, 6964, 7012, 7096, 7236, 7288, 7356, 7484, 7564, 7612, 7716, 7816, 7900, 8236, 8332, 8488, 8540, 8592, 8644, 8724, 8844, 8872, 8944, 9024, 9092, 9196, 9364, 9524, 9628, 9832];
const s6333 = [32, 200, 416, 524, 764, 828, 1100, 1152, 1204, 1256, 1340, 1412, 1464, 1516, 1568, 1620, 1720, 1808, 1880, 1932, 1988, 2048, 2204, 2276, 2420, 2472, 2524, 2580, 2672, 2768, 2888, 3144, 3244, 3472, 3540, 3612, 3660, 3852, 3936, 4020, 4072, 4140, 4212, 4264, 4316, 4392, 4600, 4680, 4812, 4956, 5052, 5256, 5444, 5544, 5620, 5676, 5784, 5872, 5928, 6000, 6084, 6252, 6396, 6572, 6580, 6804, 6904, 7000, 7096, 7132, 7324, 7396, 7448, 7504, 7576, 7636, 7732, 7804, 7888, 7940, 7984, 8204, 8276, 8440, 8620, 8908, 8972, 9052, 9172, 9244, 9404, 9508, 9556, 9772];
const s6332 = [0, 52, 104, 200, 292, 360, 440, 548, 600, 652, 720, 992, 1148, 1172, 1244, 1412, 1464, 1516, 1612, 1808, 2012, 2080, 2168, 2332, 2400, 2540, 2588, 2672, 2732, 2872, 2924, 2972, 3024, 3076, 3152, 3276, 3372, 3432, 3600, 4092, 4176, 4236, 4404, 4500, 4980, 5028, 5076, 5400, 5460, 5532, 5604, 5676, 5732, 5940, 5992, 6052, 6152, 6204, 6324, 6488, 6688, 6820, 6952, 7000, 7132, 7180, 7228, 7360, 7540, 7744, 8068, 8120, 8172, 8252, 8392, 8680, 8764, 8824, 8920, 8972, 9052, 9232, 9328, 9400, 9444, 9532, 9592, 9676, 9724];
const s6331 = [260, 332, 404, 476, 524, 652, 716, 780, 840, 892, 1080, 1120, 1228, 1280, 1332, 1400, 1460, 1544, 1940, 2264, 2756, 2900, 3260, 3312, 3552, 3804, 3900, 4020, 4072, 4124, 4172, 4224, 4296, 4392, 4584, 4872, 5196, 5352, 5400, 6156, 6700, 6804, 6892, 6964, 7024, 7312, 7444, 7504, 7588, 7636, 8128, 8188, 8404, 8500, 8632, 8884, 9208, 9244, 9460, 9520, 9556, 9640, 9688, 9784, 9844];
const s6330 = [188, 260, 360, 388, 548, 724, 812, 896, 1052, 1184, 1268, 1328, 1436, 1556, 1676, 1808, 1892, 2120, 2172, 2264, 2372, 2732, 2852, 2912, 2972, 3180, 3212, 3492, 3572, 3660, 3696, 3924, 3984, 4044, 4128, 4248, 4308, 4368, 4440, 4512, 4536, 4716, 4812, 5040, 5328, 5412, 5616, 5652, 5772, 6024, 6132, 6216, 6348, 6444, 6532, 6700, 6724, 6796, 6928, 6964, 7300, 7408, 7552, 7612, 7732, 7768, 8056, 8332, 8512, 8536, 8752, 8812, 8896, 8968, 9184, 9268, 9448, 9484, 9640, 9700];
const s6329 = [0, 104, 680, 884, 1016, 1376, 1568, 1640, 1688, 2084, 2240, 2360, 2792, 2828, 3080, 3132, 3552, 3780, 3984, 4164, 4284, 4560, 4680, 5052, 5136, 5484, 5532, 5880, 6108, 6168, 6760, 6784, 6976, 7516, 7564, 7804, 7864, 7948, 8356, 8692, 8752, 8944, 9040, 9400, 9772];
const s6328 = [296, 416, 524, 680, 1148, 1796, 1976, 2100, 2120, 2216, 2300, 2396, 2588, 2660, 3040, 3068, 3156, 3180, 3240, 3372, 3480, 3708, 3828, 3996, 4176, 4428, 5448, 5532, 5616, 5748, 5880, 6476, 6844, 7432, 8608, 9052, 9100, 9268, 9760];
const s6327 = [56, 80, 140, 212, 260, 632, 800, 1076, 1604, 2168, 2576, 2972, 3228, 3300, 3372, 3420, 3540, 3612, 3696, 3744, 3792, 4212, 5400, 5676, 5952, 6664, 6916, 7084, 7144, 7396, 7792, 8308, 8500, 8764, 9664];
const s6326 = [212, 236, 608, 752, 1292, 1508, 2240, 2432, 2952, 3672, 4140, 4176, 4464, 5700, 5976, 6820, 7180, 7288, 8176, 8368, 8668, 8920, 8968, 9124, 9820];
const s6325 = [188, 632, 668, 1724, 1760, 2180, 2300, 2636, 2768, 3168, 3384, 3444, 3516, 3576, 3768, 4020, 6036, 6108, 6988, 7096, 8872, 9544];
const s6324 = [1628, 3016, 5208, 5688, 6736, 8860];
const s6323 = [140, 980, 1712, 7852, 8848, 9376, 9712];
const s6322 = [3120, 3456, 3660, 4104, 4464, 5892, 6832, 6952, 7072];
const s6321 = [692, 1604, 2132, 2552, 2960, 8740, 9352];
const s6320 = [308, 2888, 4740];
const s6319 = [3084];
const s6318 = [8428];
const s6317 = [416, 2252, 8608, 9472];

const levels = [6378, 6373, 6372, 6371, 6370, 6369, 6368, 6367, 6366, 6365, 6364, 6363, 6362, 6361, 6360, 6359, 6358, 6357, 6356, 6355, 6354, 6353, 6352, 6351, 6350, 6349, 6348, 6347, 6346, 6345, 6344, 6343, 6342, 6341, 6340, 6339, 6338, 6337, 6336, 6335, 6334, 6333, 6332, 6331, 6330, 6329, 6328, 6327, 6326, 6325, 6324, 6323, 6322, 6321, 6320, 6319, 6318, 6317];
const samplesByLevel = [s6378, s6373, s6372, s6371, s6370, s6369, s6368, s6367, s6366, s6365, s6364, s6363, s6362, s6361, s6360, s6359, s6358, s6357, s6356, s6355, s6354, s6353, s6352, s6351, s6350, s6349, s6348, s6347, s6346, s6345, s6344, s6343, s6342, s6341, s6340, s6339, s6338, s6337, s6336, s6335, s6334, s6333, s6332, s6331, s6330, s6329, s6328, s6327, s6326, s6325, s6324, s6323, s6322, s6321, s6320, s6319, s6318, s6317];

const xTicks = [0, 2000, 4000, 6000, 8000, 10000];
const yTicks = [6320, 6330, 6340, 6350, 6360, 6370, 6380];

const points = [];
levels.forEach((level, i) => {
    samplesByLevel[i].forEach(x => points.push({ x: x, y: level }));
});

const font = { family: '"DejaVu Sans"', size: 13.9 };

// Chart.js only draws the axis side of the box, this closes the top and right.
const frame = {
    id: 'frame',
    afterDraw(chart) {
        const { ctx, chartArea: a } = chart;
        ctx.save();
        ctx.strokeStyle = '#000';
        ctx.lineWidth = 1;
        ctx.strokeRect(a.left + 0.5, a.top + 0.5, a.right - a.left, a.bottom - a.top);
        ctx.restore();
    }
};

new Chart(document.getElementById('myChart'), {
    type: 'scatter',
    plugins: [frame],
    data: {
        datasets: [{
            label: 'Samples',
            data: points,
            backgroundColor: '#000',
            borderWidth: 0,
            pointRadius: 2.9
        }]
    },
    options: {
        responsive: false,
        animation: false,
        layout: { padding: { left: 0, right: 15, top: 14, bottom: 0 } },
        plugins: {
            legend: { display: false },
            tooltip: { enabled: false },
            title: {
                display: true,
                fullSize: false,
                text: 'Run 669, channel090, Pedestal',
                color: '#000',
                font: { family: '"DejaVu Sans"', size: 16.67, weight: 'normal' },
                padding: { top: 0, bottom: 2 }
            }
        },
        scales: {
            x: {
                type: 'linear',
                min: -479,
                max: 10347,
                afterBuildTicks: axis => { axis.ticks = xTicks.map(v => ({ value: v })); },
                afterFit: axis => { axis.height = 59; },
                ticks: { color: '#000', font: font, maxRotation: 0, padding: 5, callback: v => String(v) },
                grid: { color: '#b0b0b0', lineWidth: 1, tickColor: '#000', tickLength: 5 },
                border: { color: '#000', width: 1 },
                title: { display: true, text: 'Sample #', color: '#000', font: font, padding: { top: 4, bottom: 13 } }
            },
            y: {
                type: 'linear',
                min: 6314,
                max: 6381.04,
                afterBuildTicks: axis => { axis.ticks = yTicks.map(v => ({ value: v })); },
                afterFit: axis => { axis.width = 81; },
                ticks: { color: '#000', font: font, padding: 6, callback: v => String(v) },
                grid: { color: '#b0b0b0', lineWidth: 1, tickColor: '#000', tickLength: 5 },
                border: { color: '#000', width: 1 },
                title: { display: true, text: 'ADC Counts', color: '#000', font: font, padding: { top: 13, bottom: 4 } }
            }
        }
    }
});
</script>
</body>
</html>
